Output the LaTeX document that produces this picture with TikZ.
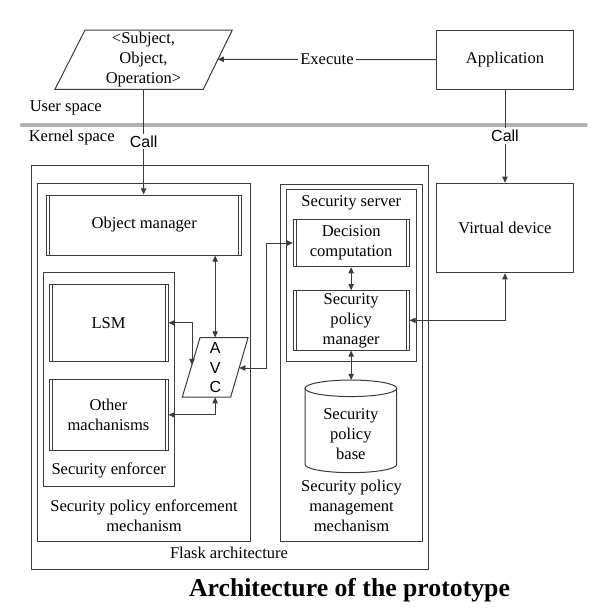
\documentclass[tikz,border=0pt]{standalone}
\usepackage{fontspec}
\setmainfont{Liberation Serif}
\newfontfamily\arialf{Liberation Sans}
\usetikzlibrary{arrows.meta,fit,calc}
\definecolor{linec}{RGB}{60,60,60}
\definecolor{sepgray}{RGB}{178,178,178}
\newcommand\myfs{\fontsize{12.4}{15}\selectfont}
\tikzset{
 box/.style={draw=linec, line width=0.75pt, inner sep=0pt},
 dblbox/.style={box, path picture={
   \draw[linec, line width=0.6pt] ([xshift=2.2pt]path picture bounding box.north west) -- ([xshift=2.2pt]path picture bounding box.south west);
   \draw[linec, line width=0.6pt] ([xshift=-2.2pt]path picture bounding box.north east) -- ([xshift=-2.2pt]path picture bounding box.south east);}},
 lbl/.style={inner sep=0pt, align=center, font=\myfs},
 one/.style={draw=linec, line width=0.75pt, -{Triangle[length=4.6pt,width=4pt]}},
 two/.style={draw=linec, line width=0.75pt, {Triangle[length=4.6pt,width=4pt]}-{Triangle[length=4.6pt,width=4pt]}},
 onwhite/.style={fill=white, inner sep=1.5pt, font=\myfs},
 callw/.style={fill=white, inner sep=1.5pt, font=\arialf\fontsize{12}{14}\selectfont},
 shapeline/.style={draw=linec, line width=0.75pt},
}
\begin{document}
\begin{tikzpicture}[x=0.75pt, y=-0.75pt]
\useasboundingbox[fill=white] (0,0) rectangle (612,615);

% separator between user and kernel space
\coordinate (sepL) at (21.7,125);
\coordinate (sepR) at (585.7,125);
\draw[sepgray, line width=3pt, line cap=round] (sepL) -- (sepR);
\node[lbl, anchor=west] (user) at (29.5,108) {User space};
\node[lbl, anchor=west] (kernel) at (28.5,137.7) {Kernel space};

% user space
\draw[shapeline] (85,30) -- (232.3,30) -- (203.3,89.3) -- (55,89.3) -- cycle;
\node[inner sep=0pt, fit={(55,30) (232.3,89.3)}] (subj) {};
\node[lbl] (subjtxt) at (143.5,59.8) {<Subject,\\Object,\\Operation>};
\coordinate (subjR) at (217.8,59.3);
\node[box, fit={(436.7,30) (573.3,89.3)}] (app) {};
\node[lbl] (apptxt) at (app.center) {Application};

% kernel space boxes
\node[box, fit={(31.7,165.7) (428.3,569)}] (flask) {};
\node[box, fit={(37.7,183.3) (250.7,541)}] (spem) {};
\node[box, fit={(280.7,184) (422.3,541)}] (spmm) {};
\node[box, fit={(286,189.3) (416.7,361.7)}] (server) {};
\node[box, fit={(43.3,272.7) (174,486)}] (enf) {};
\node[dblbox, fit={(46.7,195) (241.7,255)}] (om) {};
\node[lbl] (omtxt) at (om.center) {Object manager};
\node[dblbox, fit={(49,284) (168,361.7)}] (lsm) {};
\node[lbl] (lsmtxt) at (lsm.center) {LSM};
\node[dblbox, fit={(49,379) (168,450.7)}] (other) {};
\node[lbl] (othertxt) at (other.center) {Other\\machanisms};
\node[dblbox, fit={(293.3,219.3) (409,266.7)}] (dc) {};
\node[lbl] (dctxt) at (dc.center) {Decision\\computation};
\node[dblbox, fit={(293.3,290.7) (409,350)}] (spm) {};
\node[lbl] (spmtxt) at (spm.center) {Security\\policy\\manager};
\node[box, fit={(436.7,183.3) (573.3,272.7)}] (vd) {};
\node[lbl] (vdtxt) at (vd.center) {Virtual device};

% AVC
\draw[shapeline] (200,337.7) -- (248,337.7) -- (230.7,397) -- (182.3,397) -- cycle;
\node[inner sep=0pt, fit={(182.3,337.7) (248,397)}] (avc) {};
\node[inner sep=0pt, align=center, font=\arialf\fontsize{12}{14.6}\selectfont] (avctxt) at (215.3,368) {A\\V\\C};
\coordinate (avcL) at (192,365);
\coordinate (avcR) at (239.2,368);

% database cylinder
\draw[shapeline] (305,388.3) -- (305,464.4) arc[start angle=180, end angle=360, x radius=34.39pt, y radius=6.2pt] -- (396.7,388.3);
\draw[shapeline] (350.85,388.3) ellipse [x radius=34.39pt, y radius=6.2pt];
\coordinate (dbtop) at (350.85,380);
\node[lbl] (db) at (350.85,434) {Security\\policy\\base};

% labels
\node[lbl] (serverlbl) at (351.3,203.3) {Security server};
\node[lbl] (enflbl) at (108.7,470.7) {Security enforcer};
\node[lbl] (spemlbl) at (144,516.2) {Security policy enforcement\\mechanism};
\node[lbl] (spmmlbl) at (351.5,505.9) {Security policy\\management\\mechanism};
\node[lbl] (flasklbl) at (229,553.3) {Flask architecture};
\node[anchor=base, inner sep=0pt, font=\bfseries\fontsize{19.3}{23}\selectfont] (title) at (349.5,596.7) {Architecture of the prototype};

% connectors
\draw[one] (subj.south) -- (subj.south |- om.north) node[callw, pos=0.496] (call1) {Call};
\draw[one] (app.south) -- (vd.north) node[callw, pos=0.497] (call2) {Call};
\draw[one] (app.west) -- (subjR) node[onwhite, pos=0.5] (exec) {Execute};
\draw[two] (avc.north |- om.south) -- (avc.north);
\draw[two] (lsm.east) -| (avcL);
\draw[two] (other.east) -| (avc.south);
\draw[two] (avcR) -- ++(27.5,0) |- (dc.west);
\draw[two] (dc.south) -- (spm.north);
\draw[two] (spm.east) -| (vd.south);
\draw[two] (spm.south) -- (spm.south |- dbtop);
\end{tikzpicture}
\end{document}
